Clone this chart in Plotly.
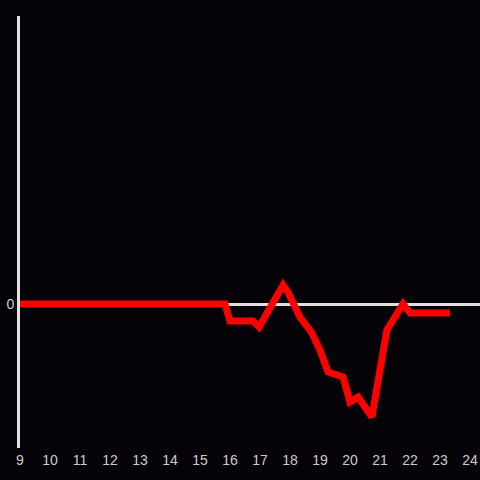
import plotly.graph_objects as go

hours = [9.0, 15.83, 16.0, 16.77, 16.97, 17.77, 17.93, 18.17, 18.33, 18.73, 19.0, 19.27,
         19.77, 20.0, 20.27, 20.73, 21.0, 21.23, 21.77, 22.0, 23.33]
values = [0, 0, -17, -17, -23, 19, 12, -4, -13, -29, -46, -68,
          -73, -98, -93, -113, -63, -26, 0, -9, -9]
x_ticks = list(range(9, 25))

fig = go.Figure()
fig.add_trace(go.Scatter(x=hours, y=values, mode="lines",
                         line=dict(color="#ff0000", width=7), hoverinfo="skip"))

fig.update_layout(
    width=480, height=480,
    margin=dict(l=20, r=0, t=16, b=32, autoexpand=False),
    paper_bgcolor="#050307", plot_bgcolor="#050307",
    showlegend=False,
    font=dict(family="Liberation Sans, Arial", size=14, color="#cccccc"),
    xaxis=dict(range=[9, 24.333], tickvals=x_ticks, ticktext=[str(t) for t in x_ticks],
               showgrid=False, zeroline=False, showline=False, ticks="", ticklen=0,
               automargin=False, ticklabelstandoff=2),
    yaxis=dict(range=[-144, 288], tickvals=[0], ticktext=["0"], showgrid=False,
               zeroline=True, zerolinecolor="#e0e0e0", zerolinewidth=3,
               showline=True, linecolor="#e0e0e0", linewidth=3, ticks="",
               automargin=False),
)
fig.write_html("out.html", config={"displayModeBar": False},
               post_script="document.body.style.margin='0';document.body.style.background='#050307';")
